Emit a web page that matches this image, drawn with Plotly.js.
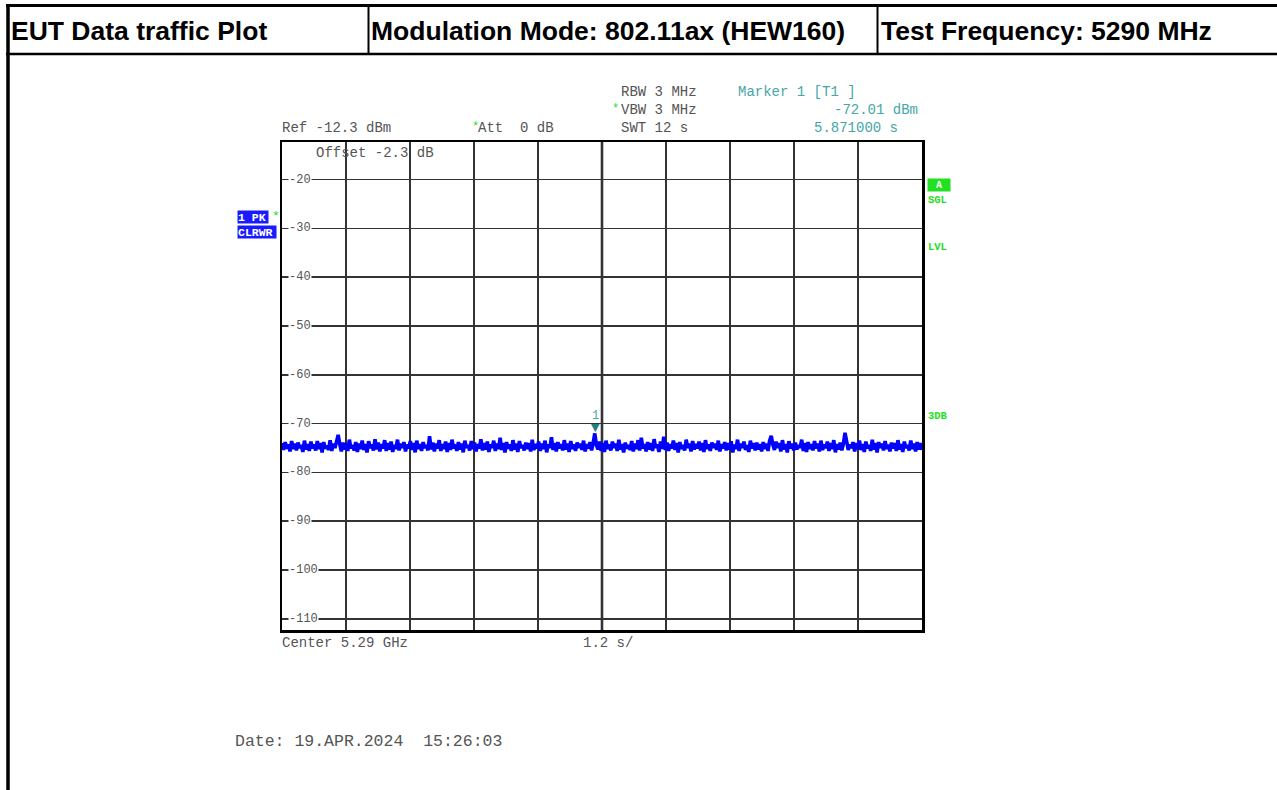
<!DOCTYPE html>
<html>
<head>
<meta charset="utf-8">
<script src="https://cdn.plot.ly/plotly-3.0.1.min.js"></script>
<style>
html,body{margin:0;padding:0;background:#fff;}
#chart{width:1277px;height:790px;}
</style>
</head>
<body>
<div id="chart"></div>
<script>
// ---- data ----
const headerTexts = ["EUT Data traffic Plot", "Modulation Mode: 802.11ax (HEW160)", "Test Frequency: 5290 MHz"];
const sweepStart = 0;      // s
const sweepEnd = 12;       // s (SWT 12 s)
const refLevel = -12.3;    // dBm
const yTickValues = [-20, -30, -40, -50, -60, -70, -80, -90, -100, -110];
const yTickLabels = ["-20", "-30", "-40", "-50", "-60", "-70", "-80", "-90", "-100", "-110"];
const markerTime = 5.871;  // s
const markerLevel = -72.01; // dBm
const traceLevels = [
-74.0,-75.4,-73.8,-75.1,-74.3,-75.7,-73.6,-75.2,-74.1,-75.5,-73.9,-75.0,-74.4,-75.8,-73.5,-75.3,-74.2,-75.6,-73.7,-75.1,
-74.3,-75.5,-73.6,-75.2,-74.0,-75.9,-73.8,-75.1,-74.5,-75.4,-73.4,-75.6,-74.1,-75.0,-73.7,-72.3,-74.2,-75.7,-73.9,-75.3,
-74.0,-75.6,-73.3,-75.1,-74.4,-75.5,-73.8,-75.8,-74.1,-75.2,-73.5,-75.4,-74.2,-75.9,-73.6,-75.0,-74.3,-75.5,-73.2,-75.3,
-73.9,-75.7,-74.2,-75.1,-73.4,-75.6,-74.0,-75.3,-73.7,-75.8,-74.4,-75.2,-73.3,-75.5,-74.1,-75.0,-73.8,-75.7,-74.3,-75.1,
-73.6,-75.4,-74.0,-75.9,-73.5,-75.2,-74.2,-75.6,-73.8,-75.0,-74.4,-75.5,-72.6,-75.3,-73.9,-75.7,-74.1,-75.1,-73.4,-75.6,
-74.2,-75.2,-73.7,-75.8,-74.0,-75.4,-73.3,-75.1,-74.3,-75.6,-73.8,-75.3,-74.1,-75.9,-73.5,-75.0,-74.4,-75.5,-73.6,-75.2,
-73.9,-75.7,-74.2,-75.1,-73.2,-75.5,-74.0,-75.3,-73.7,-75.8,-74.3,-75.0,-73.5,-75.6,-74.1,-75.2,-72.9,-75.4,-74.0,-75.9,
-73.8,-75.1,-74.3,-75.6,-73.4,-75.3,-74.1,-75.8,-73.6,-75.0,-74.4,-75.5,-73.9,-75.2,-74.0,-75.7,-73.3,-75.4,-74.2,-75.1,
-73.7,-75.6,-74.1,-75.2,-73.5,-75.9,-74.3,-75.0,-72.8,-75.4,-74.0,-75.7,-73.8,-75.1,-74.2,-75.5,-73.4,-75.3,-74.1,-75.8,
-73.6,-75.2,-74.3,-75.6,-73.9,-75.0,-74.1,-75.4,-73.5,-75.7,-74.2,-75.1,-73.8,-75.5,-74.0,-72.01,-74.4,-75.3,-73.7,-75.6,
-74.0,-75.8,-73.5,-75.2,-74.3,-75.5,-73.7,-75.0,-74.1,-75.6,-73.3,-75.3,-74.2,-75.9,-73.9,-75.1,-74.4,-75.4,-73.6,-75.7,
-74.1,-75.2,-73.4,-75.5,-72.9,-75.1,-74.2,-75.7,-73.8,-75.3,-74.0,-75.6,-73.2,-75.0,-74.3,-75.8,-73.7,-75.2,-72.7,-75.4,
-73.9,-75.6,-74.2,-75.1,-73.5,-75.4,-74.0,-75.9,-73.8,-75.2,-74.4,-75.5,-73.3,-75.0,-74.1,-75.7,-73.6,-75.3,-74.2,-75.1,
-73.7,-75.5,-74.0,-75.8,-73.4,-75.2,-74.3,-75.6,-73.9,-75.0,-74.1,-75.4,-73.5,-75.7,-74.2,-75.1,-73.8,-75.5,-74.0,-75.3,
-73.6,-75.9,-74.3,-75.2,-73.3,-75.6,-74.1,-75.0,-73.7,-75.4,-74.4,-75.8,-73.5,-75.1,-74.0,-75.5,-73.9,-75.3,-74.2,-75.7,
-73.8,-75.2,-74.1,-75.6,-73.5,-72.5,-74.3,-75.4,-73.7,-75.0,-74.0,-75.7,-73.4,-75.3,-74.2,-75.9,-73.6,-75.1,-74.1,-75.5,
-73.9,-75.3,-74.4,-75.0,-73.3,-75.6,-74.0,-75.8,-73.8,-75.2,-74.2,-75.5,-73.6,-75.1,-74.1,-75.7,-73.5,-75.4,-74.3,-75.0,
-73.7,-75.6,-74.0,-75.2,-73.4,-75.9,-74.2,-75.3,-73.9,-75.5,-74.1,-71.9,-73.6,-75.4,-74.3,-75.0,-73.8,-75.7,-74.0,-75.2,
-73.5,-75.4,-74.2,-75.8,-73.7,-75.1,-74.4,-75.6,-73.3,-75.3,-74.0,-75.9,-73.8,-75.0,-74.1,-75.5,-73.6,-75.2,-74.3,-75.7,
-73.9,-75.1,-74.0,-75.6,-73.4,-75.3,-74.2,-75.8,-73.7,-75.0,-74.4,-75.5,-73.5,-75.2,-74.1,-75.7,-73.8,-75.3,-74.0,-75.4
];
// sweep points are evenly spaced over the sweep time
const traceTimes = traceLevels.map((v, i) => sweepStart + (sweepEnd - sweepStart) * i / (traceLevels.length - 1));

// ---- layout geometry (pixels) ----
const W = 1277, H = 790;
const PL = 282, PR = 922, PT = 142, PB = 630;
const px = x => (x - PL) / (PR - PL);
const py = y => (PB - y) / (PB - PT);

const MONO = "Liberation Mono, Courier New, monospace";
const GREY = "#555555";
const TEAL = "#45a6a6";
const GREEN = "#22e022";

function txt(x, y, text, o) {
  o = o || {};
  return Object.assign({
    xref: "paper", yref: "paper", x: px(x), y: py(y), text: text,
    showarrow: false, xanchor: o.xa || "left", yanchor: "middle",
    font: {family: o.family || MONO, size: o.size || 14, color: o.color || GREY},
  }, o.extra || {});
}

const annotations = [];
// header
const HF = "Liberation Sans, Arial";
annotations.push(txt(9, 31, "<b>" + headerTexts[0] + "</b>", {family: HF, size: 26.5, color: "#000"}));
annotations.push(txt(369, 31, "<b>" + headerTexts[1] + "</b>", {family: HF, size: 26.5, color: "#000"}));
annotations.push(txt(879, 31, "<b>" + headerTexts[2] + "</b>", {family: HF, size: 26.5, color: "#000"}));
// instrument settings
annotations.push(txt(619, 92, "RBW 3 MHz"));
annotations.push(txt(610, 109, "*", {color: GREEN, size: 12}));
annotations.push(txt(619, 110, "VBW 3 MHz"));
annotations.push(txt(619, 128, "SWT 12 s"));
annotations.push(txt(280, 128, "Ref -12.3 dBm"));
annotations.push(txt(470, 127, "*", {color: GREEN, size: 12}));
annotations.push(txt(476, 128, "Att  0 dB"));
annotations.push(txt(736, 92, "Marker 1 [T1 ]", {color: TEAL}));
annotations.push(txt(920, 110, "-72.01 dBm", {color: TEAL, xa: "right"}));
annotations.push(txt(900, 128, "5.871000 s", {color: TEAL, xa: "right"}));
annotations.push(txt(314, 153, "Offset -2.3 dB"));
annotations.push(txt(280, 643, "Center 5.29 GHz"));
annotations.push(txt(581, 643, "1.2 s/"));
annotations.push(txt(233, 741, "Date: 19.APR.2024  15:26:03", {size: 16.5}));
// trace labels
annotations.push(txt(237, 217, "<b>1 PK</b>", {color: "#fff", size: 11.5, extra: {bgcolor: "#1a1aff", borderpad: 0, width: 30, height: 12, align: "left"}}));
annotations.push(txt(237, 232, "<b>CLRWR</b>", {color: "#fff", size: 11.5, extra: {bgcolor: "#1a1aff", borderpad: 0, width: 38, height: 12, align: "left"}}));
annotations.push(txt(270, 216, "*", {color: GREEN, size: 13}));
annotations.push(txt(927, 185, "<b>A</b>", {color: "#fff", size: 10, extra: {bgcolor: GREEN, borderpad: 0, width: 22, height: 12, align: "center"}}));
annotations.push(txt(926, 200, "<b>SGL</b>", {color: GREEN, size: 10.5}));
annotations.push(txt(926, 247, "<b>LVL</b>", {color: GREEN, size: 10.5}));
annotations.push(txt(926, 416, "<b>3DB</b>", {color: GREEN, size: 10.5}));
// y tick labels inside plot
yTickValues.forEach((v, i) => {
  annotations.push({
    xref: "paper", yref: "y", x: px(288), y: v, text: yTickLabels[i], showarrow: false,
    xanchor: "left", yanchor: "middle", bgcolor: "#fff", borderpad: 0,
    font: {family: MONO, size: 12, color: GREY}
  });
});
// marker
annotations.push({xref: "x", yref: "y", x: markerTime, y: markerLevel, text: "▼", showarrow: false,
  xanchor: "center", yanchor: "bottom", yshift: -3, font: {family: "DejaVu Sans", size: 11, color: "#1f8080"}});
annotations.push({xref: "x", yref: "y", x: markerTime, y: markerLevel, text: "1", showarrow: false,
  xanchor: "center", yanchor: "bottom", yshift: 8, font: {family: MONO, size: 12, color: TEAL}});

const shapes = [
  // header table
  {type: "line", xref: "paper", yref: "paper", x0: px(6), x1: px(1277), y0: py(5.5), y1: py(5.5), line: {color: "#000", width: 3}},
  {type: "line", xref: "paper", yref: "paper", x0: px(6), x1: px(1277), y0: py(54), y1: py(54), line: {color: "#000", width: 2.5}},
  {type: "line", xref: "paper", yref: "paper", x0: px(8), x1: px(8), y0: py(4), y1: py(790), line: {color: "#000", width: 3.5}},
  {type: "line", xref: "paper", yref: "paper", x0: px(368.5), x1: px(368.5), y0: py(5), y1: py(54), line: {color: "#000", width: 2}},
  {type: "line", xref: "paper", yref: "paper", x0: px(877.5), x1: px(877.5), y0: py(5), y1: py(54), line: {color: "#000", width: 2}},
  // centre grid line
  {type: "line", xref: "x", yref: "paper", x0: (sweepStart + sweepEnd) / 2, x1: (sweepStart + sweepEnd) / 2, y0: 0, y1: 1, layer: "below", line: {color: "#111", width: 2.5}},
];

const data = [{
  type: "scatter", mode: "lines", x: traceTimes, y: traceLevels,
  line: {color: "#0000ff", width: 3.6}, hoverinfo: "skip", showlegend: false
}];

const layout = {
  width: W, height: H,
  margin: {l: PL, r: W - PR, t: PT, b: H - PB, pad: 0},
  paper_bgcolor: "#fff", plot_bgcolor: "#fff",
  showlegend: false,
  xaxis: {range: [sweepStart, sweepEnd], tick0: sweepStart, dtick: (sweepEnd - sweepStart) / 10, showgrid: true,
    gridcolor: "#333", gridwidth: 1.6, zeroline: false, showticklabels: false, ticks: "",
    showline: true, mirror: true, linecolor: "#000", linewidth: 2.5},
  yaxis: {range: [refLevel - 100, refLevel], tickvals: yTickValues, showgrid: true,
    gridcolor: "#333", gridwidth: 1.6, zeroline: false, showticklabels: false, ticks: "",
    showline: true, mirror: true, linecolor: "#000", linewidth: 2.5},
  annotations: annotations,
  shapes: shapes
};

Plotly.newPlot("chart", data, layout, {displayModeBar: false, staticPlot: true});
</script>
</body>
</html>
